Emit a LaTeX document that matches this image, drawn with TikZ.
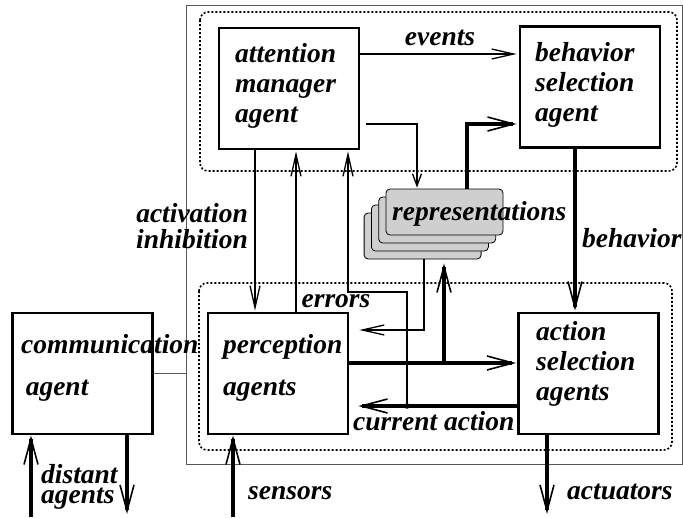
\documentclass[tikz,border=0pt]{standalone}
\usepackage{fontspec}
\setmainfont{Liberation Serif}
\usetikzlibrary{arrows.meta}

\begin{document}
\begin{tikzpicture}[x=10pt,y=-10pt,
  agentbox/.style={draw,line width=2.8pt,minimum width=140pt,minimum height=121pt,inner sep=0pt},
  repbox/.style={draw,line width=0.8pt,fill=black!19,rounded corners=4pt,minimum width=117pt,minimum height=46pt,inner sep=0pt},
  txt/.style={font=\fontsize{27.5}{30}\selectfont\bfseries\itshape,inner sep=0pt,align=left},
  dots/.style={line width=1.6pt,dash pattern=on 2pt off 2pt,rounded corners=8pt},
  thinarr/.style={line width=1.3pt,-{Straight Barb[length=22pt,width=10pt,line width=1.3pt]}},
  thickarr/.style={line width=3.8pt,-{Straight Barb[length=26pt,width=14pt,line width=1.6pt]}}]
\useasboundingbox (0,0) rectangle (68.3,51.7);

% Frame and groups
\draw[black!65,line width=1pt] (18.6,0.5) rectangle (68.2,46.4); % outer frame
\draw[dots] (20.0,1.2) rectangle (67.7,17.1); % upper group
\draw[dots] (19.9,28.3) rectangle (67.2,45.0); % lower group

% Agents
\node[agentbox] (attn) at (28.9,8.85) {};
\node[agentbox] (behav) at (59.0,8.7) {};
\node[agentbox] (percep) at (27.8,37.35) {};
\node[agentbox] (action) at (58.85,37.35) {};
\node[agentbox] (comm) at (8.25,37.35) {};
\node[txt,anchor=base west] (attntxt) at (23.5,12.2) {attention\\manager\\agent};
\node[txt,anchor=base west] (behavtxt) at (53.5,12.1) {behavior\\selection\\agent};
\node[txt,anchor=base west] (perceptxt) at (22.3,39.5) {perception\\[12pt]agents};
\node[txt,anchor=base west] (actiontxt) at (53.6,40.0) {action\\selection\\agents};
\node[txt,anchor=base west] (commtxt) at (2.1,39.5) {communication\\[12pt]\,agent};

% Representations
\foreach \k in {3,2,1,0}
  \node[repbox] (rep\k) at (44.45-0.73*\k,21.2+0.8*\k) {};
\node[txt,anchor=base west] (reptxt) at (39.2,22.0) {representations};

% Columns and rows of the connectors
\coordinate (c1) at (25.5,0); % attention -> perception
\coordinate (c2) at (29.6,0); % errors
\coordinate (c3) at (34.8,0); % current action -> attention
\coordinate (c4) at (40.7,0); % junction
\coordinate (c5) at (41.7,0); % representations <-> attention
\coordinate (c6) at (46.7,0); % representations -> behavior
\coordinate (c7) at (42.4,0); % representations -> perception
\coordinate (c8) at (44.4,0); % perception -> representations
\coordinate (c9) at (57.5,0); % behavior
\coordinate (rt) at (0,12.4); % upper row
\coordinate (rk) at (0,29.2); % kink
\coordinate (re) at (0,33.0); % to perception
\coordinate (rm) at (0,36.3); % perception -> action
\coordinate (ra) at (0,40.6); % current action
\coordinate (fl) at (18.6,0); % frame left

% Connectors
\draw[thinarr,shorten >=2pt] (attn.east |- 0,5.4) -- (behav.west |- 0,5.4);
\draw[thinarr,shorten >=1pt] (attn.south -| c1) -- (percep.north -| c1);
\draw[thinarr,shorten >=1pt] (percep.north -| c2) -- (attn.south -| c2);
\draw[thinarr,shorten >=1pt] (c4 |- ra) -- (c4 |- rk) -| (attn.south -| c3);
\fill (c4 |- ra) circle (2.8pt);
\draw[thinarr,{Straight Barb[length=12pt,width=9pt,line width=1.3pt]}-,shorten <=1pt,shorten >=6pt] (rep0.north -| c5) |- (attn.east |- rt);
\draw[thickarr,shorten >=2pt] (rep0.north -| c6) |- (behav.west |- rt);
\draw[thinarr,shorten >=10pt] (rep3.south -| c7) |- (percep.east |- re);
\draw[thickarr,shorten >=1pt] (percep.east |- rm) -- (action.west |- rm);
\draw[thickarr,shorten >=4pt] (c8 |- rm) -- (rep3.south -| c8);
\draw[thickarr,shorten >=1pt] (behav.south -| c9) -- (action.north -| c9);
\draw[thickarr,shorten >=9pt] (action.west |- ra) -- (percep.east |- ra);
\draw[black!65,line width=1pt] (comm.east) -- (comm.east -| fl);

% Outside arrows
\coordinate (din) at (3.1,51.7);
\coordinate (dout) at (12.7,51.4);
\coordinate (sens) at (23.3,51.7);
\coordinate (act) at (54.7,51.4);
\draw[thickarr] (din) -- (comm.south -| din);
\draw[thickarr] (comm.south -| dout) -- (dout);
\draw[thickarr] (sens) -- (percep.south -| sens);
\draw[thickarr] (action.south -| act) -- (act);

% Labels
\node[txt,anchor=base] (events) at (44.0,4.5) {events};
\node[txt,anchor=base] (errors) at (33.6,30.7) {errors};
\node[txt,anchor=base west] (behlbl) at (58.2,24.7) {behavior};
\node[txt,anchor=base west] (curlbl) at (35.3,43.0) {current action};
\node[txt,anchor=base east,align=right] (actlbl) at (24.8,24.8) {activation\\[-4pt]inhibition};
\node[txt,anchor=base west] (distlbl) at (4.1,50.3) {distant\\[-10pt]agents};
\node[txt,anchor=base west] (senslbl) at (24.8,49.9) {sensors};
\node[txt,anchor=base west] (actulbl) at (56.7,49.9) {actuators};
\end{tikzpicture}
\end{document}
